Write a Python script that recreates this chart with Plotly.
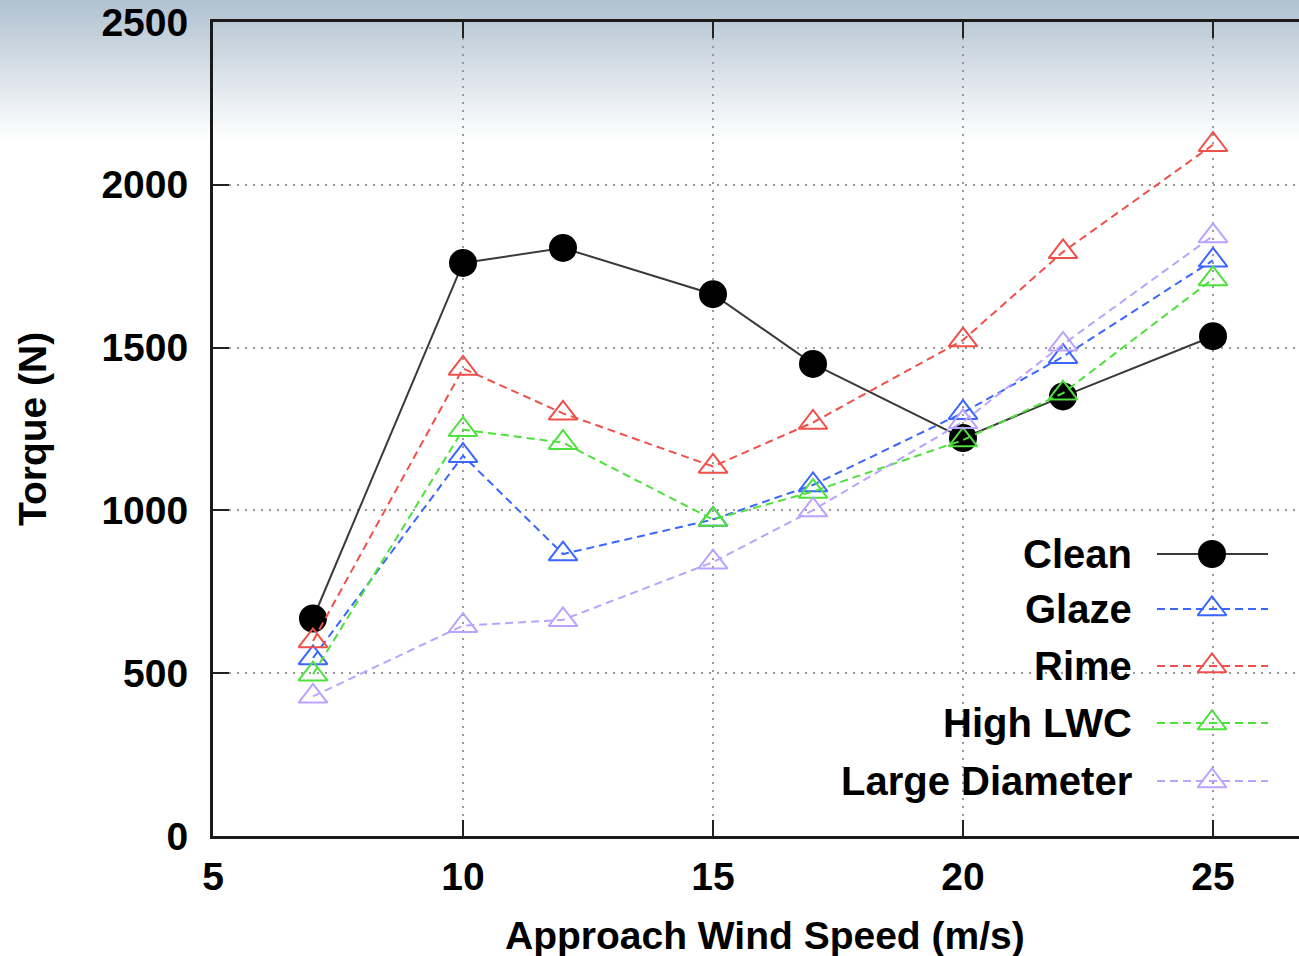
import plotly.graph_objects as go

# ---------------- data ----------------
wind_speed = [7, 10, 12, 15, 17, 20, 22, 25]
clean = [668, 1760, 1806, 1664, 1450, 1222, 1350, 1535]
glaze = [547, 1168, 866, 972, 1078, 1300, 1472, 1768]
rime = [599, 1436, 1298, 1135, 1270, 1523, 1794, 2123]
high_lwc = [497, 1248, 1208, 972, 1058, 1216, 1360, 1711]
large_diameter = [429, 646, 664, 841, 1001, 1272, 1510, 1843]

series_names = ["Clean", "Glaze", "Rime", "High LWC", "Large Diameter"]
x_ticks = [5, 10, 15, 20, 25]
y_ticks = [0, 500, 1000, 1500, 2000, 2500]
x_title = "Approach Wind Speed (m/s)"
y_title = "Torque (N)"

# ---------------- layout constants ----------------
W, H = 1299, 956
L, R, T, B = 213, 0, 22, 120
PW = W - L - R
PH = H - T - B
X_PER_UNIT = 50.0
x_range = [5, 5 + PW / X_PER_UNIT]

FONT = "Liberation Sans, Arial, sans-serif"
FS_TICK = 39
FS_TITLE = 39
FS_LEG = 40

styles = {
    "Clean": dict(color="#000000", line="#3a3a3a", dash="solid", symbol="circle", size=26),
    "Glaze": dict(color="#3b66ff", line="#3b66ff", dash="8px,5px", symbol="triangle-up-open", size=25),
    "Rime": dict(color="#f0504a", line="#f0504a", dash="8px,5px", symbol="triangle-up-open", size=25),
    "High LWC": dict(color="#4ee03c", line="#4ee03c", dash="8px,5px", symbol="triangle-up-open", size=25),
    "Large Diameter": dict(color="#b9a3ff", line="#b9a3ff", dash="8px,5px", symbol="triangle-up-open", size=25),
}
values = [clean, glaze, rime, high_lwc, large_diameter]


def fx(px):
    return (px - L) / PW


def fy(py):
    return (H - B - py) / PH


fig = go.Figure()

for name, vals in zip(series_names, values):
    s = styles[name]
    fig.add_trace(go.Scatter(
        x=wind_speed, y=vals, name=name, mode="lines+markers",
        line=dict(color=s["line"], width=2, dash=s["dash"]),
        marker=dict(symbol=s["symbol"], size=s["size"], color=s["color"],
                    line=dict(color=s["color"], width=2)),
        cliponaxis=False, showlegend=False,
    ))

# ---------------- custom legend (text left, key right) ----------------
legend_rows_py = [554, 609, 666, 723, 781]
key_x0, key_xc, key_x1 = 1157, 1212, 1268
text_right_px = 1134
for name, py in zip(series_names, legend_rows_py):
    s = styles[name]
    fig.add_trace(go.Scatter(
        x=[key_x0, key_x1], y=[py, py], mode="lines", xaxis="x2", yaxis="y2",
        line=dict(color=s["line"], width=2, dash=s["dash"]),
        showlegend=False, hoverinfo="skip",
    ))
    fig.add_trace(go.Scatter(
        x=[key_xc], y=[py], mode="markers", xaxis="x2", yaxis="y2",
        marker=dict(symbol=s["symbol"], size=s["size"], color=s["color"],
                    line=dict(color=s["color"], width=2)),
        showlegend=False, hoverinfo="skip",
    ))
    fig.add_annotation(
        x=fx(text_right_px), y=fy(py), xref="paper", yref="paper",
        text=name, showarrow=False, xanchor="right", yanchor="middle",
        font=dict(family=FONT, size=FS_LEG, color="black", weight="bold"),
    )

# ---------------- background gradient ----------------
shapes = []
top_rgb = (176, 193, 208)
grad_h = 140
n = 47
for i in range(n):
    y0 = i * grad_h / n
    y1 = (i + 1) * grad_h / n + 0.5
    t = (i + 0.5) / n
    c = tuple(int(round(top_rgb[k] + (255 - top_rgb[k]) * t)) for k in range(3))
    shapes.append(dict(type="rect", xref="paper", yref="paper",
                       x0=fx(0), x1=fx(W + 5), y0=fy(y1), y1=fy(y0),
                       fillcolor="rgb(%d,%d,%d)" % c, line=dict(width=0), layer="below"))

# white box behind legend (breaks the grid)
shapes.append(dict(type="rect", xref="paper", yref="paper",
                   x0=fx(804), x1=fx(1290), y0=fy(814), y1=fy(527),
                   fillcolor="white", line=dict(width=0), layer="between"))

fig.update_layout(
    width=W, height=H,
    margin=dict(l=L, r=R, t=T, b=B, pad=0),
    paper_bgcolor="white",
    plot_bgcolor="rgba(0,0,0,0)",
    shapes=shapes,
    showlegend=False,
    font=dict(family=FONT, size=FS_TICK, color="black"),
    xaxis=dict(
        range=x_range, tickvals=x_ticks, ticktext=[str(v) for v in x_ticks],
        showgrid=True, gridcolor="#9a9a9a", griddash="2px,6px", gridwidth=1.5,
        zeroline=False, showline=True, linecolor="#1a1a1a", linewidth=3,
        mirror="ticks", ticks="inside", ticklen=16, tickwidth=2, tickcolor="#222",
        tickfont=dict(family=FONT, size=FS_TICK, color="black", weight="bold"),
        ticklabelstandoff=4,
    ),
    yaxis=dict(
        range=[0, 2500], tickvals=y_ticks, ticktext=[str(v) for v in y_ticks],
        showgrid=True, gridcolor="#9a9a9a", griddash="2px,6px", gridwidth=1.5,
        zeroline=False, showline=True, linecolor="#1a1a1a", linewidth=3,
        mirror=False, ticks="inside", ticklen=16, tickwidth=2, tickcolor="#222",
        tickfont=dict(family=FONT, size=FS_TICK, color="black", weight="bold"),
        ticklabelstandoff=14,
    ),
    xaxis2=dict(overlaying="x", range=[L, W - R], visible=False, fixedrange=True),
    yaxis2=dict(overlaying="y", range=[H - B, T], visible=False, fixedrange=True),
)

fig.add_annotation(x=fx(765), y=fy(935), xref="paper", yref="paper", text=x_title,
                   showarrow=False, xanchor="center", yanchor="middle",
                   font=dict(family=FONT, size=FS_TITLE, color="black", weight="bold"))
fig.add_annotation(x=fx(32), y=fy(429), xref="paper", yref="paper", text=y_title,
                   showarrow=False, xanchor="center", yanchor="middle", textangle=-90,
                   font=dict(family=FONT, size=FS_TITLE, color="black", weight="bold"))

fig.write_html("out.html")
